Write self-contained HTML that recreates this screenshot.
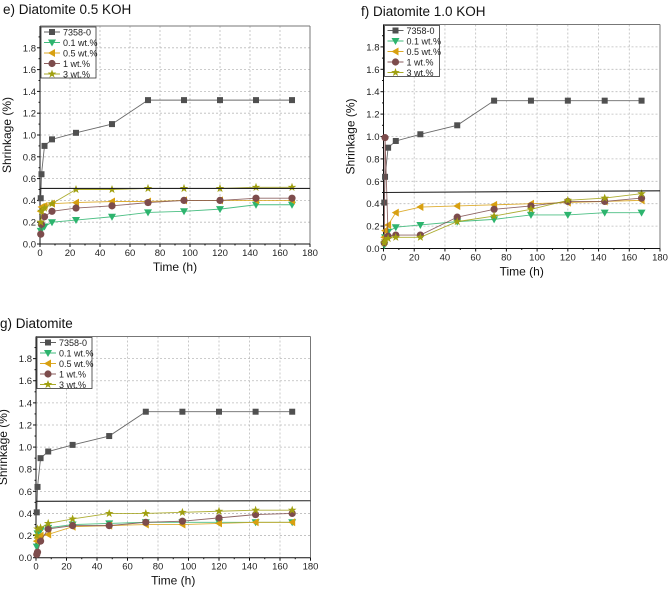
<!DOCTYPE html>
<html><head><meta charset="utf-8">
<style>
body{margin:0;background:#fff;width:668px;height:593px;overflow:hidden;font-family:"Liberation Sans",Arial,sans-serif;}
svg text{font-family:"Liberation Sans",Arial,sans-serif;}
</style></head>
<body>
<svg id="fig" width="668" height="593" viewBox="0 0 668 593" xmlns="http://www.w3.org/2000/svg"></svg>
<script>
// shared data
const times = [0.5,1,3,8,24,48,72,96,120,144,168];
const seriesNames = ["7358-0","0.1 wt.%","0.5 wt.%","1 wt.%","3 wt.%"];
const yTicks = [0.0,0.2,0.4,0.6,0.8,1.0,1.2,1.4,1.6,1.8];
const xTicks = [0,20,40,60,80,100,120,140,160,180];
// panel e
const eRef  = [0.42,0.64,0.90,0.96,1.02,1.10,1.32,1.32,1.32,1.32,1.32];
const eP01  = [0.12,0.15,0.16,0.20,0.22,0.25,0.29,0.30,0.32,0.36,0.36];
const eP05  = [0.30,0.34,0.35,0.37,0.38,0.39,0.39,0.40,0.40,0.40,0.40];
const eP1   = [0.09,0.18,0.25,0.30,0.33,0.35,0.38,0.40,0.40,0.42,0.42];
const eP3   = [0.20,0.30,0.33,0.37,0.50,0.50,0.51,0.51,0.51,0.52,0.52];
// panel f
const fRef  = [0.41,0.64,0.90,0.96,1.02,1.10,1.32,1.32,1.32,1.32,1.32];
const fP01  = [0.03,0.10,0.15,0.19,0.21,0.24,0.26,0.30,0.30,0.32,0.32];
const fP05  = [0.10,0.16,0.21,0.32,0.37,0.38,0.39,0.40,0.41,0.42,0.43];
const fP1   = [0.05,0.99,0.11,0.12,0.12,0.28,0.35,0.38,0.42,0.42,0.45];
const fP3   = [0.05,0.07,0.09,0.10,0.10,0.24,0.29,0.35,0.43,0.45,0.49];
// panel g
const gRef  = [0.41,0.64,0.90,0.96,1.02,1.10,1.32,1.32,1.32,1.32,1.32];
const gP01  = [0.10,0.22,0.25,0.27,0.30,0.31,0.32,0.32,0.32,0.32,0.32];
const gP05  = [0.15,0.18,0.20,0.21,0.28,0.29,0.30,0.30,0.31,0.32,0.32];
const gP1   = [0.03,0.05,0.15,0.26,0.29,0.29,0.32,0.33,0.36,0.39,0.40];
const gP3   = [0.20,0.26,0.27,0.31,0.35,0.40,0.40,0.41,0.42,0.43,0.43];
const hLineE = [0.51,0.51];
const hLineF = [0.50,0.515];
const hLineG = [0.51,0.515];

const colors = ["#505050","#2db46e","#d8a010","#7d4c4c","#a0a010"];
const markers = ["square","down","left","circle","star"];
const NS="http://www.w3.org/2000/svg";
const svg=document.getElementById('fig');
function mk(tag,attrs,parent){const e=document.createElementNS(NS,tag);for(const k in attrs)e.setAttribute(k,attrs[k]);(parent||svg).appendChild(e);return e;}

function marker(g,type,x,y,c){
  let e;
  if(type==="square"){e=mk('rect',{x:x-3,y:y-3,width:6,height:6,fill:c},g);}
  else if(type==="circle"){e=mk('circle',{cx:x,cy:y,r:3.6,fill:c},g);}
  else if(type==="down"){e=mk('polygon',{points:`${x-4},${y-3} ${x+4},${y-3} ${x},${y+4}`,fill:c},g);}
  else if(type==="left"){e=mk('polygon',{points:`${x-4},${y} ${x+3},${y-4} ${x+3},${y+4}`,fill:c},g);}
  else {let p=[];for(let i=0;i<10;i++){const r=i%2?1.8:4.5;const a=-Math.PI/2+i*Math.PI/5;p.push((x+r*Math.cos(a)).toFixed(1)+","+(y+r*Math.sin(a)).toFixed(1));}
    e=mk('polygon',{points:p.join(' '),fill:c},g);}
  
  
  return e;
}

function panel(id,title,tx,ty,L,R,T,B,series,hline){
  const g=mk('g',{});
  
  
  const xs=v=>L+(v/180)*(R-L);
  const ys=v=>B-(v/2.0)*(B-T);
  const t=mk('text',{x:tx,y:ty,'font-size':13.5,fill:'#111'},g);t.textContent=title;
  
  // grid
  xTicks.forEach(v=>{if(v>0&&v<180){const l=mk('line',{x1:xs(v),x2:xs(v),y1:T,y2:B,stroke:'#bbb','stroke-dasharray':'2,2','stroke-width':0.8},g);}});
  yTicks.forEach(v=>{if(v>0){const l=mk('line',{x1:L,x2:R,y1:ys(v),y2:ys(v),stroke:'#bbb','stroke-dasharray':'2,2','stroke-width':0.8},g);}});
  // frame
  mk('line',{x1:L,x2:R,y1:T,y2:T,stroke:'#777','stroke-width':1},g);
  mk('line',{x1:R,x2:R,y1:T,y2:B,stroke:'#777','stroke-width':1},g);
  const ya=mk('line',{x1:L,x2:L,y1:T,y2:B,stroke:'#111','stroke-width':1},g);
  
  const xa=mk('line',{x1:L,x2:R,y1:B,y2:B,stroke:'#111','stroke-width':1},g);
  
  xTicks.forEach(v=>{mk('line',{x1:xs(v),x2:xs(v),y1:B,y2:B+3,stroke:'#111'},g);
    if(v<180)mk('line',{x1:xs(v+10),x2:xs(v+10),y1:B,y2:B+1.5,stroke:'#111'},g);
    const tt=mk('text',{x:xs(v),y:B+12,'font-size':9.5,'text-anchor':'middle',fill:'#222'},g);tt.textContent=v;
    });
  yTicks.forEach(v=>{mk('line',{x1:L-3,x2:L,y1:ys(v),y2:ys(v),stroke:'#111'},g);
    mk('line',{x1:L-1.5,x2:L,y1:ys(v+0.1),y2:ys(v+0.1),stroke:'#111'},g);
    const tt=mk('text',{x:L-4,y:ys(v)+3.5,'font-size':9.5,'text-anchor':'end',fill:'#222'},g);tt.textContent=v.toFixed(1);
    });
  const xt=mk('text',{x:(L+R)/2,y:B+27,'font-size':12,'text-anchor':'middle',fill:'#111'},g);xt.textContent='Time (h)';
  
  const cy=(T+B)/2, cx=L-29;
  const yt=mk('text',{x:cx,y:cy,'font-size':12,'text-anchor':'middle',fill:'#111',transform:`rotate(-90 ${cx} ${cy})`},g);yt.textContent='Shrinkage (%)';
  
  // series
  series.forEach((s,i)=>{
    const sg=mk('g',{},g);
    
    
    mk('polyline',{points:s.map((v,j)=>xs(times[j])+','+ys(v)).join(' '),fill:'none',stroke:colors[i],'stroke-width':0.9,'stroke-opacity':0.85},sg);
    s.forEach((v,j)=>marker(sg,markers[i],xs(times[j]),ys(v),colors[i]));
  });
  const hl=mk('line',{x1:L,x2:R,y1:ys(hline[0]),y2:ys(hline[1]),stroke:'#222','stroke-width':1.1},g);
  
  // legend
  const lg=mk('g',{},g);
  
  mk('rect',{x:L+1,y:T+1,width:55,height:51,fill:'#fff',stroke:'#333','stroke-width':0.8},lg);
  seriesNames.forEach((n,i)=>{const y=T+6+i*10.5;
    const eg=mk('g',{},lg);
    mk('line',{x1:L+4,x2:L+20,y1:y,y2:y,stroke:colors[i],'stroke-width':0.9},eg);
    marker(eg,markers[i],L+12,y,colors[i]);
    const tt=mk('text',{x:L+23,y:y+3.3,'font-size':9,fill:'#222'},eg);tt.textContent=n;});
}
panel('panel-e','e) Diatomite 0.5 KOH',3,14,40,310,26,244,[eRef,eP01,eP05,eP1,eP3],hLineE);
panel('panel-f','f) Diatomite 1.0 KOH',361,16,383.5,660,24.5,248.5,[fRef,fP01,fP05,fP1,fP3],hLineF);
panel('panel-g','g) Diatomite',0,328,36,310.5,336.5,557.7,[gRef,gP01,gP05,gP1,gP3],hLineG);
</script>
</body></html>
